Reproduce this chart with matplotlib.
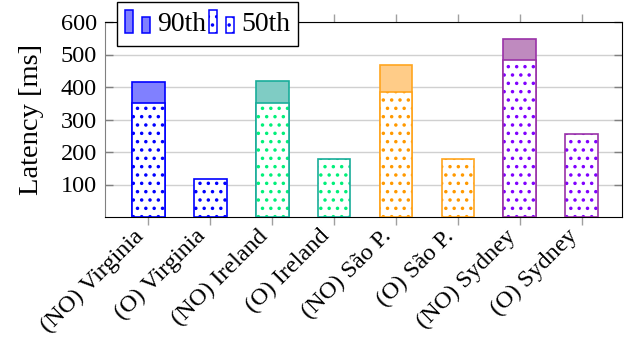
import numpy as np
import matplotlib
matplotlib.use('Agg')
from matplotlib import pyplot as plt
from matplotlib.patches import Patch, Rectangle
from matplotlib.legend_handler import HandlerBase

plt.rcParams['font.family'] = ['Liberation Serif', 'DejaVu Serif']
plt.rcParams['font.size'] = 17.5
plt.rcParams['hatch.linewidth'] = 1.3

labels = ['(NO) Virginia', '(O) Virginia', '(NO) Ireland', '(O) Ireland',
          '(NO) São P.', '(O) São P.', '(NO) Sydney', '(O) Sydney']
p90 = [416, None, 418, None, 468, None, 547, None]
p50 = [350, 116, 352, 178, 385, 180, 483, 254]

edge_colors = ['#0000ff', '#0000ff', '#19ad9a', '#19ad9a',
               '#ffa51f', '#ffa51f', '#9a32a8', '#9a32a8']
fill_colors = ['#8080ff', '#8080ff', '#7fccc4', '#7fccc4',
               '#ffcc88', '#ffcc88', '#bf8abf', '#bf8abf']
dot_colors = ['#0000ff', '#0000ff', '#00f07a', '#00f07a',
              '#ff9900', '#ff9900', '#8000ff', '#8000ff']


# pgfplots-like legend image: two bars of different height
class TwoBars(HandlerBase):
  def create_artists(self, legend, orig_handle, xdescent, ydescent,
                     width, height, fontsize, trans):
    bw = width * 0.32
    out = []
    for x0, h in [(0, height), (width - bw, height * 0.72)]:
      r = Rectangle((x0 - xdescent, -ydescent), bw, h,
                    facecolor=orig_handle.get_facecolor(),
                    edgecolor=orig_handle.get_edgecolor(),
                    hatch=orig_handle.get_hatch(), linewidth=1.1,
                    transform=trans)
      out.append(r)
    return out


fig = plt.figure(figsize=(6.34, 3.39), dpi=100)
ax = fig.add_axes([105/634, 1-217/339, 517/634, 195/339])

x = np.arange(len(labels))
w = 0.53
for i in range(len(labels)):
  if p90[i] is not None:
    ax.bar(x[i], p90[i], w, color=fill_colors[i], edgecolor=edge_colors[i],
           linewidth=1.2, zorder=3)
  ax.bar(x[i], p50[i], w, color='white', edgecolor=dot_colors[i], hatch='..',
         linewidth=0, zorder=4)
  ax.bar(x[i], p50[i], w, fill=False, edgecolor=edge_colors[i],
         linewidth=1.2, zorder=5)

ax.set_xlim(-0.7, 7.65)
ax.set_ylim(0, 600)
ax.set_yticks([100, 200, 300, 400, 500, 600])
ax.set_xticks(x)
ax.set_xticklabels(labels, rotation=45, ha='right', va='bottom',
                   rotation_mode='anchor')
ax.set_ylabel('Latency [ms]', fontsize=20.5, labelpad=12)
ax.yaxis.grid(True, color='#d0d0d0', linewidth=1, zorder=0)
ax.set_axisbelow(True)
ax.tick_params(axis='y', direction='in', length=6, color='#808080',
               left=True, right=True, width=1, pad=6)
ax.tick_params(axis='x', direction='out', length=6, color='#a0a0a0',
               top=True, bottom=True, width=1, pad=11)
ax.spines['left'].set_color('#808080')

h90 = Patch(facecolor='#8080ff', edgecolor='#0000ff')
h50 = Patch(facecolor='white', edgecolor='#0000ff', hatch='..')
leg = ax.legend([h90, h50], ['90th', '50th'], ncol=2, loc='upper left',
                bbox_to_anchor=(0.023, 1.103), frameon=True, fancybox=False,
                edgecolor='black', framealpha=1, fontsize=20,
                handler_map={Patch: TwoBars()},
                handlelength=0.9, handleheight=0.9, handletextpad=0.25,
                columnspacing=0.1, borderpad=0.3, borderaxespad=0)
leg.get_frame().set_linewidth(1)
leg.set_zorder(10)

plt.savefig('out.png', dpi=100)
